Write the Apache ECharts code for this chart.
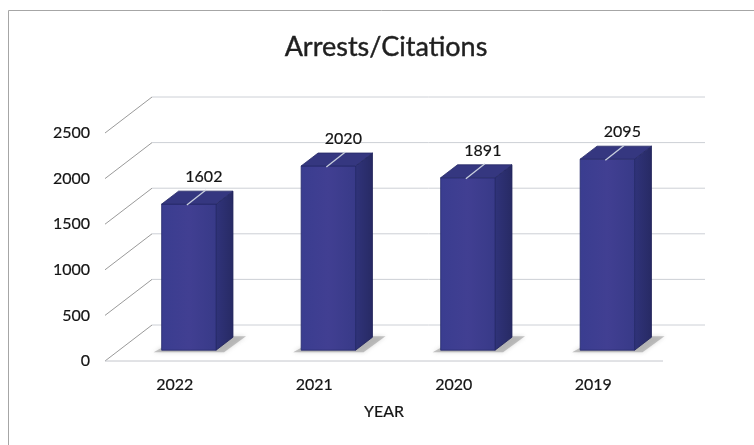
<!DOCTYPE html>
<html>
<head>
<meta charset="utf-8">
<title>Arrests/Citations</title>
<script src="https://cdn.jsdelivr.net/npm/echarts@6/dist/echarts.min.js"></script>
<style>
  html, body { margin: 0; padding: 0; background: #ffffff; }
  #chart { width: 754px; height: 445px; }
</style>
</head>
<body>
<div id="chart"></div>
<script>
// Chart data
const years = ['2022', '2021', '2020', '2019'];
const arrests = [1602, 2020, 1891, 2095];
const yTicks = [0, 500, 1000, 1500, 2000, 2500];

// Oblique 3D look: depth vector of the plot box and placement of the bars inside it
const DEPTH = [47, -36];
const BAR_FRONT = 0.30;     // fraction of the depth where the bar front face sits
const BAR_DEPTH = 0.36;     // fraction of the depth the bar occupies
const BAR_WIDTH = 0.39;     // fraction of the category band
const TEXT = '#141414';
const FONT = 'Lato';
// a thin outline in the text colour gives the labels a slightly heavier stroke
const heavy = { textBorderColor: TEXT, textBorderWidth: 0.2 };

const chart = echarts.init(document.getElementById('chart'), null, { renderer: 'canvas' });

function frameItem(params, api) {
  const v = api.value(1);
  const rect = params.coordSys;
  const y = api.coord([0, v])[1];
  const x0 = rect.x;
  const bx = x0 + DEPTH[0];
  const by = y + DEPTH[1];
  const children = [
    { type: 'line', shape: { x1: x0, y1: y, x2: bx, y2: by },
      style: { stroke: '#9a9a9a', lineWidth: 1 } },
    { type: 'line', shape: { x1: bx, y1: by, x2: bx + rect.width - 5, y2: by },
      style: { stroke: '#cdd0d6', lineWidth: 1 } }
  ];
  if (v === 0) {
    children.push({ type: 'line', shape: { x1: x0, y1: y, x2: x0 + rect.width, y2: y },
      style: { stroke: '#c4c6cc', lineWidth: 1 } });
  }
  return { type: 'group', children: children };
}

function barItem(params, api) {
  const idx = api.value(0);
  const val = api.value(1);
  const base = api.coord([idx, 0]);
  const top = api.coord([idx, val]);
  const band = api.size([1, 0])[0];
  const w = band * BAR_WIDTH;
  const fx = DEPTH[0] * BAR_FRONT, fy = DEPTH[1] * BAR_FRONT;
  const dx = DEPTH[0] * BAR_DEPTH, dy = DEPTH[1] * BAR_DEPTH;
  const cx = base[0] + fx;
  const l = cx - w / 2, r = cx + w / 2;
  const b = base[1] + fy, t = top[1] + fy;

  const front = [[l, b], [r, b], [r, t], [l, t]];
  const side = [[r, b], [r + dx, b + dy], [r + dx, t + dy], [r, t]];
  const topFace = [[l, t], [r, t], [r + dx, t + dy], [l + dx, t + dy]];
  const shadow = [[l - 8, b + 2], [r + 8, b + 2], [r + dx + 13, b + dy - 1], [l + dx + 4, b + dy - 1]];

  return {
    type: 'group',
    children: [
      { type: 'polygon', shape: { points: shadow },
        style: { fill: 'rgba(150,150,150,0.55)', shadowBlur: 4, shadowColor: 'rgba(120,120,120,0.5)' } },
      { type: 'polygon', shape: { points: side },
        style: { fill: new echarts.graphic.LinearGradient(0, 0, 1, 0, [
          { offset: 0, color: '#30337a' }, { offset: 1, color: '#272a64' }]),
          stroke: '#1f2258', lineWidth: 0.8 } },
      { type: 'polygon', shape: { points: front },
        style: { fill: new echarts.graphic.LinearGradient(0, 0, 1, 0, [
          { offset: 0, color: '#3a3d90' }, { offset: 0.5, color: '#413f92' }, { offset: 1, color: '#383a88' }]),
          stroke: '#252a6c', lineWidth: 0.8 } },
      { type: 'polygon', shape: { points: topFace },
        style: { fill: '#353780', stroke: '#262a66', lineWidth: 0.8 } },
      { type: 'line', shape: { x1: cx - 2, y1: t + 1, x2: cx + 17, y2: t - 14 },
        style: { stroke: '#c9d0de', lineWidth: 1.3 } },
      { type: 'text', x: cx + 15, y: t - 27,
        style: { text: String(val), fill: TEXT, fontSize: 16, fontFamily: FONT,
          align: 'center', verticalAlign: 'middle', stroke: TEXT, lineWidth: 0.2 } }
    ]
  };
}

const option = {
  backgroundColor: '#ffffff',
  animation: false,
  graphic: [
    { type: 'line', shape: { x1: 8.5, y1: 10.5, x2: 754, y2: 10.5 },
      style: { stroke: '#a6a6a6', lineWidth: 1 }, silent: true },
    { type: 'line', shape: { x1: 8.5, y1: 10.5, x2: 8.5, y2: 445 },
      style: { stroke: '#a6a6a6', lineWidth: 1 }, silent: true },
    { type: 'text', x: 386, y: 47,
      style: { text: 'Arrests/Citations', fill: '#1f1f1f', fontSize: 27, fontFamily: FONT,
        align: 'center', verticalAlign: 'middle', stroke: '#1f1f1f', lineWidth: 0.4 } }
  ],
  grid: { left: 105, right: 91, top: 133, bottom: 84, containLabel: false },
  xAxis: {
    type: 'category',
    data: years,
    boundaryGap: true,
    axisLine: { show: false },
    axisTick: { show: false },
    axisLabel: Object.assign({ color: TEXT, fontSize: 16, fontFamily: FONT, margin: 16 }, heavy),
    name: 'YEAR',
    nameLocation: 'middle',
    nameGap: 43,
    nameTextStyle: Object.assign({ color: TEXT, fontSize: 16, fontFamily: FONT }, heavy)
  },
  yAxis: {
    type: 'value',
    min: 0,
    max: 2500,
    interval: 500,
    axisLine: { show: false },
    axisTick: { show: false },
    splitLine: { show: false },
    axisLabel: Object.assign({ color: TEXT, fontSize: 16, fontFamily: FONT, margin: 15,
      formatter: v => String(v) }, heavy)
  },
  series: [
    {
      type: 'custom',
      name: 'frame',
      coordinateSystem: 'cartesian2d',
      renderItem: frameItem,
      data: yTicks.map(v => [0, v]),
      encode: { x: 0, y: 1 },
      clip: false,
      silent: true,
      z: 1
    },
    {
      type: 'custom',
      name: 'Arrests/Citations',
      coordinateSystem: 'cartesian2d',
      renderItem: barItem,
      data: arrests.map((v, i) => [i, v]),
      encode: { x: 0, y: 1 },
      clip: false,
      z: 2
    }
  ]
};

chart.setOption(option);
</script>
</body>
</html>
